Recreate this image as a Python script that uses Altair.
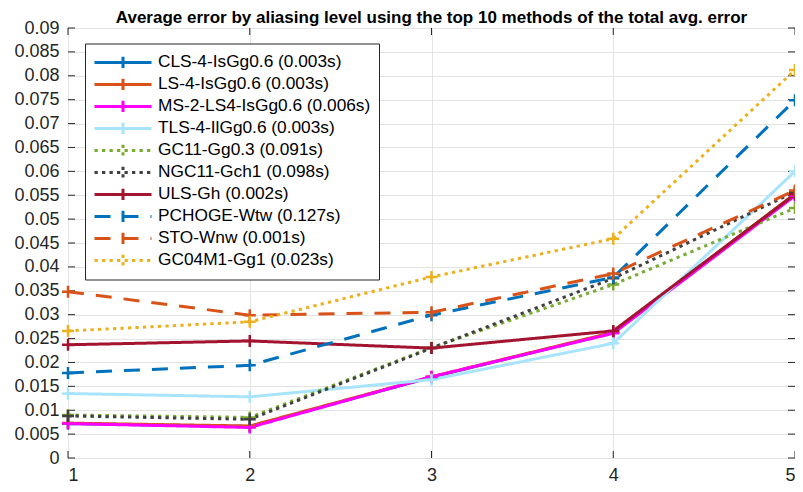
import altair as alt
import pandas as pd

# ---- data ----
levels = [1, 2, 3, 4, 5]
methods = [
    "CLS-4-IsGg0.6 (0.003s)",
    "LS-4-IsGg0.6 (0.003s)",
    "MS-2-LS4-IsGg0.6 (0.006s)",
    "TLS-4-IlGg0.6 (0.003s)",
    "GC11-Gg0.3 (0.091s)",
    "NGC11-Gch1 (0.098s)",
    "ULS-Gh (0.002s)",
    "PCHOGE-Wtw (0.127s)",
    "STO-Wnw (0.001s)",
    "GC04M1-Gg1 (0.023s)",
]
cls4 = [0.0072, 0.0066, 0.0169, 0.0262, 0.0551]
ls4 = [0.0073, 0.0067, 0.0170, 0.0263, 0.0553]
ms2 = [0.0072, 0.0064, 0.0170, 0.0261, 0.0549]
tls4 = [0.0135, 0.0128, 0.0164, 0.0240, 0.0600]
gc11 = [0.0090, 0.0085, 0.0231, 0.0363, 0.0523]
ngc11 = [0.0088, 0.0081, 0.0230, 0.0376, 0.0557]
uls = [0.0237, 0.0245, 0.0230, 0.0266, 0.0552]
pchoge = [0.0178, 0.0194, 0.0299, 0.0378, 0.0749]
sto = [0.0348, 0.0299, 0.0305, 0.0386, 0.0560]
gc04m1 = [0.0266, 0.0285, 0.0379, 0.0459, 0.0812]
series = [cls4, ls4, ms2, tls4, gc11, ngc11, uls, pchoge, sto, gc04m1]

y_ticks = [0, 0.005, 0.01, 0.015, 0.02, 0.025, 0.03, 0.035, 0.04, 0.045,
           0.05, 0.055, 0.06, 0.065, 0.07, 0.075, 0.08, 0.085, 0.09]

title_text = "Average error by aliasing level using the top 10 methods of the total avg. error"

# ---- styles ----
colors = ["#0072BD", "#D95319", "#FF00FF", "#A8E4FC", "#77AC30",
          "#404040", "#A2142F", "#0072BD", "#D95319", "#EDB120"]
SOLID = [1, 0]
DOT = [3.3, 4.2]
DASH = [16, 12]
dashes = [SOLID, SOLID, SOLID, SOLID, DOT, DOT, SOLID, DASH, DASH, DOT]

rows = []
for k, (m, vals) in enumerate(zip(methods, series)):
    for lv, v in zip(levels, vals):
        rows.append({"method": m, "level": lv, "value": v, "k": k})
df = pd.DataFrame(rows)

# inward box ticks (MATLAB style), positioned through the scales
ticks_left = pd.DataFrame({"level": [levels[0]] * len(y_ticks), "value": y_ticks})
ticks_right = pd.DataFrame({"level": [levels[-1]] * len(y_ticks), "value": y_ticks})
ticks_bottom = pd.DataFrame({"level": levels, "value": [y_ticks[0]] * len(levels)})
ticks_top = pd.DataFrame({"level": levels, "value": [y_ticks[-1]] * len(levels)})

PLUS = "M-1,0H1M0,-1V1"
LEG_SYM = "M-1,0H1M0,-0.2V0.2"
FONT = "Liberation Sans"
AXIS_COLOR = "#262626"
TICK_LEN = 7

legend = alt.Legend(
    title=None, orient="none", legendX=17, legendY=15.5,
    symbolType=LEG_SYM, symbolSize=3249, symbolStrokeWidth=3,
    symbolFillColor="transparent",
    labelFont=FONT, labelFontSize=17.3, labelColor="#000000", labelLimit=500,
    labelOffset=5, symbolOffset=0,
    padding=8, strokeColor="#262626", fillColor="white",
    clipHeight=21.8, rowPadding=0,
)

x_scale = alt.Scale(domain=[1, 5], nice=False, zero=False)
y_scale = alt.Scale(domain=[0, 0.09], nice=False)
x_enc = alt.X("level:Q", scale=x_scale,
              axis=alt.Axis(values=levels, format="d", title=None))
y_enc = alt.Y("value:Q", scale=y_scale,
              axis=alt.Axis(values=y_ticks, title=None,
                            labelExpr="datum.value == 0 ? '0' : format(datum.value, '.3~f')"))
color_enc = alt.Color("method:N", sort=methods,
                      scale=alt.Scale(domain=methods, range=colors), legend=legend)
dash_enc = alt.StrokeDash("method:N", sort=methods,
                          scale=alt.Scale(domain=methods, range=dashes), legend=legend)

lines = alt.Chart(df).mark_line(strokeWidth=3, strokeCap="butt").encode(
    x=x_enc, y=y_enc, color=color_enc, strokeDash=dash_enc,
    order=alt.Order("level:Q"),
)

points = alt.Chart(df).mark_point(shape=PLUS, filled=False, size=144,
                                  strokeWidth=2.5, opacity=1).encode(
    x=x_enc, y=y_enc,
    color=alt.Color("method:N", sort=methods,
                    scale=alt.Scale(domain=methods, range=colors), legend=None),
)

def tick_layer(data, orient, xo=0, yo=0):
    return alt.Chart(data).mark_tick(
        orient=orient, size=TICK_LEN, thickness=1, color=AXIS_COLOR,
        xOffset=xo, yOffset=yo, opacity=1,
    ).encode(x=x_enc, y=y_enc)

tl = tick_layer(ticks_left, "horizontal", xo=TICK_LEN / 2)
tr = tick_layer(ticks_right, "horizontal", xo=-TICK_LEN / 2)
tb = tick_layer(ticks_bottom, "vertical", yo=-TICK_LEN / 2)
tt = tick_layer(ticks_top, "vertical", yo=TICK_LEN / 2)

chart = alt.layer(tl, tr, tb, tt, lines, points).properties(
    width=727, height=430,
    title=alt.TitleParams(
        title_text, font=FONT, fontSize=17, fontWeight="bold",
        color="#000000", anchor="middle", frame="group", offset=-8,
    ),
    padding={"left": 60, "top": 20, "right": 0, "bottom": 26},
    autosize=alt.AutoSizeParams(type="none"),
).configure_view(
    stroke=AXIS_COLOR, strokeWidth=1,
).configure_axis(
    domain=False, ticks=False, grid=True, gridColor="#E3E3E3", gridWidth=1,
    labelFont=FONT, labelFontSize=18, labelColor="#262626", labelPadding=8,
).configure_axisY(labelPadding=9)

chart.save("out.html", embed_options={"renderer": "svg", "actions": False})
